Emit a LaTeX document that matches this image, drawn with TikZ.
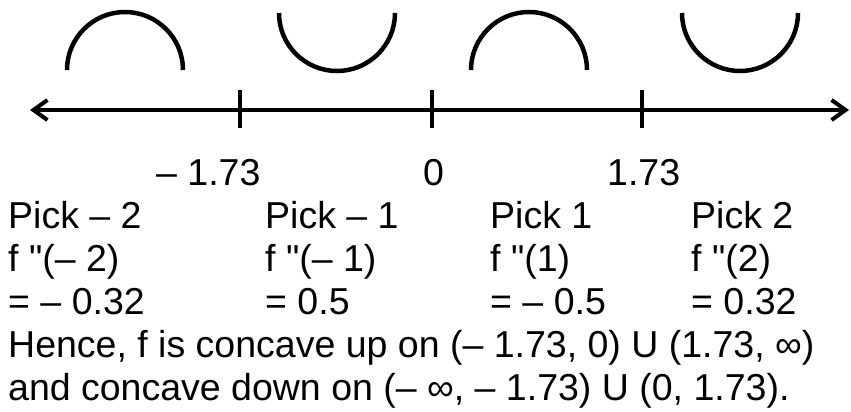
\documentclass[tikz,border=0pt]{standalone}
\usepackage{fontspec}
\setmainfont{Liberation Sans}
\usetikzlibrary{arrows.meta}
\begin{document}
\begin{tikzpicture}[x=1pt,y=-1pt,
  txt/.style={anchor=base west,inner sep=0pt,font=\fontsize{37.5}{42}\selectfont},
  axisline/.style={line width=4pt,{Straight Barb[length=14pt,width=20pt,line width=4pt]}-{Straight Barb[length=14pt,width=20pt,line width=4pt]}},
  tickline/.style={line width=4pt},
  curve/.style={line width=4.5pt}]
\useasboundingbox (0,0) rectangle (851,412);
% axis
\coordinate (L) at (30,110);
\coordinate (R) at (849,110);
\draw[axisline] (L) -- (R);
\coordinate (t1a) at (240,90); \coordinate (t1b) at (240,128);
\coordinate (t2a) at (432,90); \coordinate (t2b) at (432,128);
\coordinate (t3a) at (642,90); \coordinate (t3b) at (642,128);
\draw[tickline] (t1a) -- (t1b);
\draw[tickline] (t2a) -- (t2b);
\draw[tickline] (t3a) -- (t3b);
% arcs (y axis points down, so angles 180->360 go over the top)
\draw[curve] (67,70) arc[start angle=180,end angle=360,radius=58];
\draw[curve] (279,13) arc[start angle=180,end angle=0,radius=58];
\draw[curve] (471,70) arc[start angle=180,end angle=360,radius=58];
\draw[curve] (682,13) arc[start angle=180,end angle=0,radius=58];
% axis labels
\node[txt] (a1) at (156,185) {– 1.73};
\node[txt] (a2) at (423,185) {0};
\node[txt] (a3) at (607,185) {1.73};
% columns
\node[txt] (p1) at (8,228) {Pick – 2};
\node[txt] (p2) at (265,228) {Pick – 1};
\node[txt] (p3) at (490,228) {Pick 1};
\node[txt] (p4) at (691,228) {Pick 2};
\node[txt] (f1) at (8,271) {f \textquotedbl(– 2)};
\node[txt] (f2) at (265,271) {f \textquotedbl(– 1)};
\node[txt] (f3) at (490,271) {f \textquotedbl(1)};
\node[txt] (f4) at (691,271) {f \textquotedbl(2)};
\node[txt] (v1) at (8,314) {= – 0.32};
\node[txt] (v2) at (265,314) {= 0.5};
\node[txt] (v3) at (490,314) {= – 0.5};
\node[txt] (v4) at (691,314) {= 0.32};
\node[txt] (h1) at (8,357) {Hence, f is concave up on (– 1.73, 0) U (1.73, ∞)};
\node[txt] (h2) at (8,400) {and concave down on (– ∞, – 1.73) U (0, 1.73).};
\end{tikzpicture}
\end{document}
